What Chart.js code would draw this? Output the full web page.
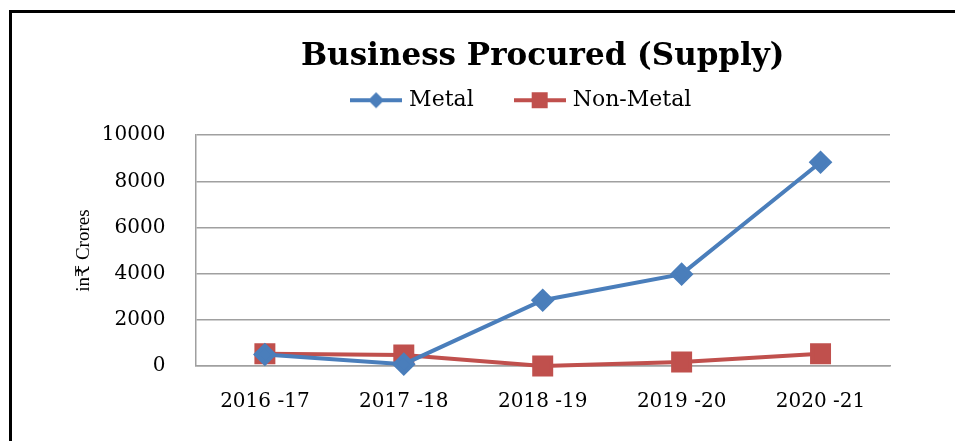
<!DOCTYPE html>
<html>
<head>
<meta charset="utf-8">
<script src="https://cdn.jsdelivr.net/npm/chart.js@4.4.1/dist/chart.umd.min.js"></script>
<style>
  html, body { margin: 0; padding: 0; background: #fff; }
  #wrap { position: relative; width: 955px; height: 441px; overflow: hidden; }
  #frame { position: absolute; left: 9px; top: 10px; width: 960px; height: 460px;
           border-top: 3px solid #000; border-left: 3px solid #000; }
  #chart { position: absolute; left: 0; top: 0; }
</style>
</head>
<body>
<div id="wrap">
  <div id="frame"></div>
  <canvas id="chart" width="955" height="441"></canvas>
</div>
<script>
const years = ['2016 -17', '2017 -18', '2018 -19', '2019 -20', '2020 -21'];
const metal = [500, 80, 2850, 3980, 8830];
const nonMetal = [530, 480, 0, 170, 530];
const yTicks = [0, 2000, 4000, 6000, 8000, 10000];

const BLUE = '#4a7ebb';
const RED = '#c0504d';
const SERIF = '"DejaVu Serif", "Liberation Serif", serif';
const TIMES = '"Liberation Serif", "DejaVu Serif", serif';

// little "line with marker" pictures for the legend
function legendIcon(color, shape) {
    const c = document.createElement('canvas');
    c.width = 52; c.height = 20;
    const g = c.getContext('2d');
    g.strokeStyle = color;
    g.lineWidth = 4;
    g.beginPath(); g.moveTo(0, 10); g.lineTo(52, 10); g.stroke();
    g.fillStyle = color;
    g.beginPath();
    if (shape === 'diamond') {
        g.moveTo(26, 2); g.lineTo(34, 10); g.lineTo(26, 18); g.lineTo(18, 10);
    } else {
        g.rect(18, 2, 16, 16);
    }
    g.closePath(); g.fill();
    return c;
}
const icons = [legendIcon(BLUE, 'diamond'), legendIcon(RED, 'square')];

// fixed legend height so the plot starts where the original does,
// and the legend sits a bit left of the plot centre like the original
const legendTweak = {
    id: 'legendTweak',
    beforeInit(chart) {
        const fit = chart.legend.fit;
        chart.legend.fit = function() {
            fit.bind(chart.legend)();
            this.height = 90;
        };
    },
    afterLayout(chart) {
        chart.legend.left -= 20;
        chart.legend.right -= 20;
    }
};

new Chart(document.getElementById('chart'), {
    type: 'line',
    data: {
        labels: years,
        datasets: [{
            label: 'Metal',
            data: metal,
            borderColor: BLUE,
            backgroundColor: BLUE,
            borderWidth: 4,
            pointStyle: 'rectRot',
            pointRadius: 9,
            pointHoverRadius: 9,
            tension: 0,
            clip: false
        }, {
            label: 'Non-Metal',
            data: nonMetal,
            borderColor: RED,
            backgroundColor: RED,
            borderWidth: 4,
            pointStyle: 'rect',
            pointRadius: 12,
            pointHoverRadius: 12,
            tension: 0,
            clip: false
        }]
    },
    options: {
        responsive: false,
        animation: false,
        layout: { padding: { left: 37, right: 65, top: 20, bottom: 27 } },
        plugins: {
            title: {
                display: true,
                text: 'Business Procured (Supply)',
                color: '#000',
                fullSize: false,
                font: { family: SERIF, size: 31, weight: 'bold' },
                padding: { top: 18, bottom: -30 }
            },
            legend: {
                fullSize: false,
                labels: {
                    color: '#000',
                    font: { family: SERIF, size: 22 },
                    usePointStyle: true,
                    pointStyleWidth: 44,
                    padding: 44,
                    generateLabels(chart) {
                        return chart.data.datasets.map((ds, i) => ({
                            text: ds.label,
                            pointStyle: icons[i],
                            fillStyle: ds.borderColor,
                            strokeStyle: ds.borderColor,
                            lineWidth: 0,
                            fontColor: '#000',
                            datasetIndex: i
                        }));
                    }
                }
            },
            tooltip: { enabled: false }
        },
        scales: {
            x: {
                offset: true,
                afterFit(scale) { scale.height -= 24; },
                grid: { display: false, drawTicks: false },
                border: { display: true, color: '#a0a0a0', width: 1.5 },
                ticks: { color: '#000', font: { family: SERIF, size: 20 }, padding: 24, maxRotation: 0 }
            },
            y: {
                min: 0,
                max: 10000,
                afterBuildTicks(axis) { axis.ticks = yTicks.map(v => ({ value: v })); },
                afterFit(scale) { scale.width -= 30; },
                grid: { color: '#a0a0a0', lineWidth: 1.5, drawTicks: false },
                border: { display: true, color: '#a0a0a0', width: 1.5 },
                ticks: {
                    color: '#000',
                    font: { family: SERIF, size: 20 },
                    padding: 30,
                    callback: v => String(v)
                },
                title: {
                    display: true,
                    text: 'in\u20b9 Crores',
                    color: '#000',
                    font: { family: TIMES, size: 19 },
                    padding: { top: 36, bottom: 6 }
                }
            }
        }
    },
    plugins: [legendTweak]
});
</script>
</body>
</html>
